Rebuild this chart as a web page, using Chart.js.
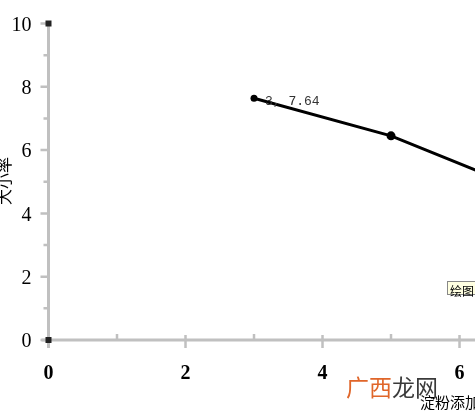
<!DOCTYPE html>
<html>
<head>
<meta charset="utf-8">
<script src="https://cdn.jsdelivr.net/npm/chart.js@4"></script>
<style>
  html, body { margin:0; padding:0; background:#fff; overflow:hidden; }
  #wrap { position:relative; width:475px; height:413px; overflow:hidden; }
  #tip { position:absolute; left:447px; top:281px; height:12px; line-height:12px; padding:0 2px;
         font:12px "Noto Sans CJK SC"; background:#ffffe1; border:1px solid #888; border-right:none;
         white-space:nowrap; color:#000; }
  #mark { position:absolute; left:346px; top:369px; font:23px "Noto Sans CJK SC"; white-space:nowrap; }
  #mark .a { color:#e0662a; }
  #mark .b { color:#3a3a3a; }
  #xtitle { position:absolute; left:420px; top:391px; font:15px "Noto Sans CJK SC"; white-space:nowrap; color:#000; }
</style>
</head>
<body>
<div id="wrap">
  <canvas id="chart" width="475" height="413"></canvas>
  <div id="tip">绘图区</div>
  <div id="mark"><span class="a">广西</span><span class="b">龙网</span></div>
  <div id="xtitle">淀粉添加量(%)</div>
</div>
<script>
const xValues = [3, 5, 7];
const yValues = [7.64, 6.45, 4.7];
const xTickLabels = [0, 2, 4, 6];
const xMinorTicks = [1, 3, 5];
const yTickLabels = [0, 2, 4, 6, 8, 10];
const yMinorTicks = [1, 3, 5, 7, 9];
const yTitle = '大小率';
const pointNote = '3, 7.64';

const axisColor = '#c0c0c0';

// draws the axes, ticks and labels on top of the library's scales
const axesPlugin = {
  id:'axes',
  afterDatasetsDraw(chart) {
    const {ctx, scales:{x, y}} = chart;
    const x0 = x.getPixelForValue(0);
    const y0 = y.getPixelForValue(0);
    const yTop = y.getPixelForValue(10);
    ctx.save();
    ctx.strokeStyle = axisColor;
    ctx.lineWidth = 3;
    ctx.beginPath();
    ctx.moveTo(x0, yTop - 2); ctx.lineTo(x0, y0 + 8);
    ctx.moveTo(x0 - 7, y0); ctx.lineTo(chart.width, y0);
    ctx.stroke();

    ctx.lineWidth = 2.5;
    ctx.beginPath();
    yTickLabels.forEach(v => { const p = y.getPixelForValue(v); ctx.moveTo(x0 - 8, p); ctx.lineTo(x0, p); });
    yMinorTicks.forEach(v => { const p = y.getPixelForValue(v); ctx.moveTo(x0 - 5, p); ctx.lineTo(x0, p); });
    xTickLabels.forEach(v => { const p = x.getPixelForValue(v); ctx.moveTo(p, y0 - 5); ctx.lineTo(p, y0 + 8); });
    xMinorTicks.forEach(v => { const p = x.getPixelForValue(v); ctx.moveTo(p, y0 - 6); ctx.lineTo(p, y0); });
    ctx.stroke();

    ctx.fillStyle = '#222';
    ctx.fillRect(x0 - 3, yTop - 3, 6, 6);
    ctx.fillRect(x0 - 3, y0 - 3, 6, 6);

    ctx.fillStyle = '#000';
    ctx.font = '20px "Liberation Serif"';
    ctx.textAlign = 'right';
    ctx.textBaseline = 'middle';
    yTickLabels.forEach(v => ctx.fillText(String(v), x0 - 17, y.getPixelForValue(v) + 2));

    ctx.font = 'bold 20px "Liberation Serif"';
    ctx.textAlign = 'center';
    xTickLabels.forEach(v => ctx.fillText(String(v), x.getPixelForValue(v), y0 + 34));

    ctx.fillStyle = '#333';
    ctx.font = '13px "Liberation Mono"';
    ctx.textAlign = 'left';
    ctx.fillText(pointNote, x.getPixelForValue(xValues[0]) + 11, y.getPixelForValue(yValues[0]) + 3);

    ctx.fillStyle = '#000';
    ctx.font = '16px "Noto Sans CJK SC"';
    ctx.translate(4, 181);
    ctx.rotate(-Math.PI / 2);
    ctx.textAlign = 'center';
    ctx.fillText(yTitle, 0, 0);
    ctx.restore();
  }
};

new Chart(document.getElementById('chart'), {
  type:'line',
  data:{
    datasets:[{
      data:xValues.map((v, i) => ({x:v, y:yValues[i]})),
      borderColor:'#000',
      backgroundColor:'#000',
      borderWidth:3,
      pointRadius:[3.5, 4.5, 4.5],
      pointBorderWidth:0,
      tension:0
    }]
  },
  options:{
    responsive:false,
    animation:false,
    layout:{autoPadding:false, padding:{left:48.5, right:0, top:23.5, bottom:73}},
    plugins:{legend:{display:false}, tooltip:{enabled:false}},
    scales:{
      x:{type:'linear', min:0, max:6.226, display:false},
      y:{type:'linear', min:0, max:10, display:false}
    }
  },
  plugins:[axesPlugin]
});
</script>
</body>
</html>
